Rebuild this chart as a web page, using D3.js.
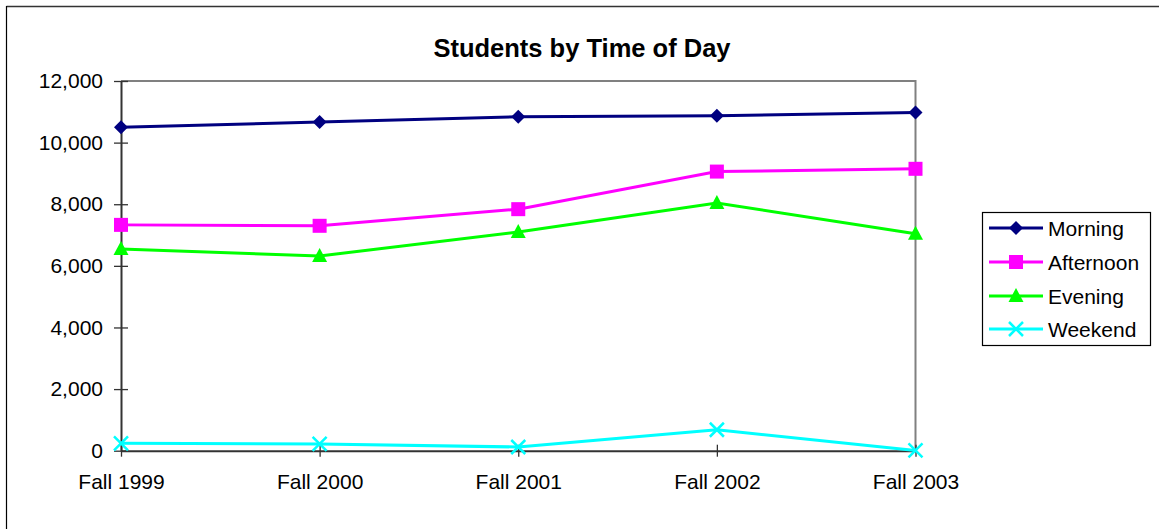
<!DOCTYPE html>
<html><head><meta charset="utf-8">
<script src="https://cdn.jsdelivr.net/npm/d3@7"></script>
<style>body{margin:0;background:#fff}svg{display:block;font-family:"Liberation Sans",Arial,sans-serif}</style>
</head><body><svg id="c" width="1159" height="529"></svg>
<script>
const categories = ["Fall 1999","Fall 2000","Fall 2001","Fall 2002","Fall 2003"];
const morning   = [10500, 10670, 10840, 10870, 10980];
const afternoon = [7330, 7300, 7840, 9060, 9150];
const evening   = [6550, 6320, 7100, 8040, 7040];
const weekend   = [240, 220, 120, 680, 10];
const yTicks = [0,2000,4000,6000,8000,10000,12000];
const seriesNames = ["Morning","Afternoon","Evening","Weekend"];
const seriesColors = ["#000080","#FF00FF","#00FF00","#00FFFF"];
const seriesMarkers = ["diamond","square","triangle","x"];
const series = [morning, afternoon, evening, weekend].map((v,i)=>({name:seriesNames[i],values:v,color:seriesColors[i],marker:seriesMarkers[i]}));

const svg = d3.select("#c");
const L=121, R=915.5, T=81, B=450.7;
const x = d3.scalePoint().domain(categories).range([L,R]);
const y = d3.scaleLinear().domain([0,12000]).range([B,T]);

// outer chart border (top and left visible)
svg.append("line").attr("x1",6.5).attr("x2",1159).attr("y1",6.5).attr("y2",6.5).attr("stroke","#333").attr("stroke-width",1.5);
svg.append("line").attr("x1",6.5).attr("x2",6.5).attr("y1",6).attr("y2",529).attr("stroke","#000").attr("stroke-width",1.2);

// title
svg.append("text").attr("x",582).attr("y",57).attr("text-anchor","middle").attr("font-weight","bold").attr("font-size",25.5).text("Students by Time of Day");

// plot area border top/right gray
svg.append("path").attr("d",`M${L},${T}H${R}V${B}`).attr("fill","none").attr("stroke","#808080").attr("stroke-width",2);

// y axis
const yAxis = d3.axisLeft(y).tickValues(yTicks).tickSizeInner(7).tickSizeOuter(0).tickPadding(11).tickFormat(d3.format(","));
const gy = svg.append("g").attr("transform",`translate(${L},0)`).call(yAxis);
gy.select(".domain").attr("stroke","#333").attr("stroke-width",2);
gy.selectAll(".tick line").attr("stroke","#333").attr("stroke-width",1.3).attr("x2",-7).attr("x1",7);
gy.selectAll(".tick text").attr("font-size",21).attr("fill","#000").attr("font-family","Liberation Sans, Arial, sans-serif");

// x axis
const xAxis = d3.axisBottom(x).tickSizeInner(7).tickSizeOuter(0).tickPadding(16);
const gx = svg.append("g").attr("transform",`translate(0,${B})`).call(xAxis);
gx.select(".domain").attr("stroke","#333").attr("stroke-width",2);
gx.selectAll(".tick line").attr("stroke","#333").attr("stroke-width",1.3).attr("y1",-6).attr("y2",6);
gx.selectAll(".tick text").attr("font-size",21).attr("fill","#000").attr("font-family","Liberation Sans, Arial, sans-serif");

function drawMarker(g, type, cx, cy, color){
  const s=7;
  if(type==="diamond") g.append("path").attr("d",`M${cx},${cy-s}L${cx+s},${cy}L${cx},${cy+s}L${cx-s},${cy}Z`).attr("fill",color);
  else if(type==="square") g.append("rect").attr("x",cx-s).attr("y",cy-s).attr("width",2*s).attr("height",2*s).attr("fill",color);
  else if(type==="triangle") g.append("path").attr("d",`M${cx},${cy-s-1}L${cx+s+0.5},${cy+s-1}L${cx-s-0.5},${cy+s-1}Z`).attr("fill",color);
  else if(type==="x") g.append("path").attr("d",`M${cx-s},${cy-s}L${cx+s},${cy+s}M${cx-s},${cy+s}L${cx+s},${cy-s}`).attr("stroke",color).attr("stroke-width",2.5);
}

const line = d3.line().x((d,i)=>x(categories[i])).y(d=>y(d));
series.forEach(s=>{
  const g = svg.append("g");
  g.append("path").attr("d",line(s.values)).attr("fill","none").attr("stroke",s.color).attr("stroke-width",3);
  s.values.forEach((v,i)=>drawMarker(g,s.marker,x(categories[i]),y(v),s.color));
});

// legend
const lg = svg.append("g");
lg.append("rect").attr("x",982.5).attr("y",212.5).attr("width",168).attr("height",133).attr("fill","#fff").attr("stroke","#000").attr("stroke-width",1.2);
const rowY=[228,262,296,329];
series.forEach((s,i)=>{
  const yy=rowY[i];
  lg.append("line").attr("x1",989).attr("x2",1043).attr("y1",yy).attr("y2",yy).attr("stroke",s.color).attr("stroke-width",3);
  drawMarker(lg,s.marker,1016,yy,s.color);
  lg.append("text").attr("x",1048).attr("y",yy+7.5).attr("font-size",21).text(s.name);
});
</script></body></html>
